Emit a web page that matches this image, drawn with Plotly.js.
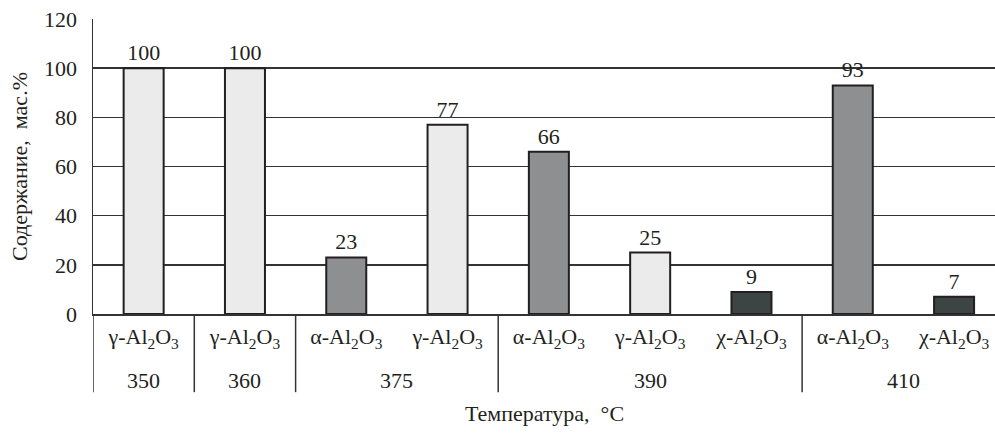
<!DOCTYPE html>
<html>
<head>
<meta charset="utf-8">
<script src="https://cdn.plot.ly/plotly-3.0.1.min.js"></script>
<style>html,body{margin:0;padding:0;background:#fff;}#chart{width:995px;height:433px;}</style>
</head>
<body>
<div id="chart"></div>
<script>
// ---- data ----
const phases = ['γ', 'γ', 'α', 'γ', 'α', 'γ', 'χ', 'α', 'χ'];
const temperatures = ['350', '360', '375', '375', '390', '390', '390', '410', '410'];
const contents = [100, 100, 23, 77, 66, 25, 9, 93, 7];
const yTicks = [0, 20, 40, 60, 80, 100, 120];
const xTitle = 'Температура,\u00a0 °C';
const yTitle = 'Содержание,\u00a0 мас.%';

// ---- styles ----
const phaseColors = { 'γ': '#ebebeb', 'α': '#8e8f90', 'χ': '#3d4544' };
const FONT = 'Liberation Serif, Times New Roman, serif';
const TXT = '#231f20';

const idx = phases.map((_, i) => i);
const tickText = phases.map(p => p + '-Al<sub>2</sub>O<sub>3</sub>');

// temperature groups (runs)
const groups = [];
temperatures.forEach((t, i) => {
  const g = groups[groups.length - 1];
  if (g && g.t === t) g.end = i; else groups.push({ t: t, start: i, end: i });
});

const shapes = groups.map(g => ({
  type: 'line', xref: 'x', yref: 'paper',
  x0: g.start - 0.5, x1: g.start - 0.5, y0: -0.265, y1: 0,
  line: { color: '#333', width: 1.5 }, layer: 'above'
}));

const annotations = groups.map(g => ({
  xref: 'x', yref: 'paper', x: (g.start + g.end) / 2, y: -0.224,
  text: g.t, showarrow: false, yanchor: 'middle', xanchor: 'center',
  font: { family: FONT, size: 22, color: TXT }
}));
annotations.push({
  xref: 'paper', yref: 'paper', x: 0.5, y: -0.336, text: xTitle,
  showarrow: false, yanchor: 'middle', xanchor: 'center',
  font: { family: FONT, size: 22, color: TXT }
});

const trace = {
  type: 'bar',
  x: idx,
  y: contents,
  width: 0.395,
  marker: {
    color: phases.map(p => phaseColors[p]),
    line: { color: '#231f20', width: 2 }
  },
  text: contents.map(String),
  textposition: 'outside',
  textfont: { family: FONT, size: 22, color: TXT },
  cliponaxis: false,
  hoverinfo: 'skip'
};

const layout = {
  width: 995, height: 433,
  margin: { l: 93, r: 0, t: 19, b: 119 },
  paper_bgcolor: '#fff', plot_bgcolor: '#fff',
  showlegend: false,
  font: { family: FONT, color: TXT },
  xaxis: {
    type: 'linear',
    range: [-0.5, 8.404],
    tickmode: 'array', tickvals: idx, ticktext: tickText,
    tickfont: { family: FONT, size: 22, color: TXT },
    ticks: '', showgrid: false, zeroline: false,
    showline: true, linecolor: '#333', linewidth: 1.5,
    ticklabelstandoff: 2, fixedrange: true
  },
  yaxis: {
    range: [0, 120],
    tickmode: 'array', tickvals: yTicks,
    tickfont: { family: FONT, size: 22, color: TXT },
    ticks: '', showgrid: true, gridcolor: '#333', gridwidth: 1.5,
    zeroline: false, showline: true, linecolor: '#333', linewidth: 1.5,
    ticklabelstandoff: 10,
    title: { text: yTitle, font: { family: FONT, size: 22, color: TXT }, standoff: 10 },
    fixedrange: true
  },
  shapes: shapes,
  annotations: annotations
};

Plotly.newPlot('chart', [trace], layout, { displayModeBar: false, staticPlot: true });
</script>
</body>
</html>
